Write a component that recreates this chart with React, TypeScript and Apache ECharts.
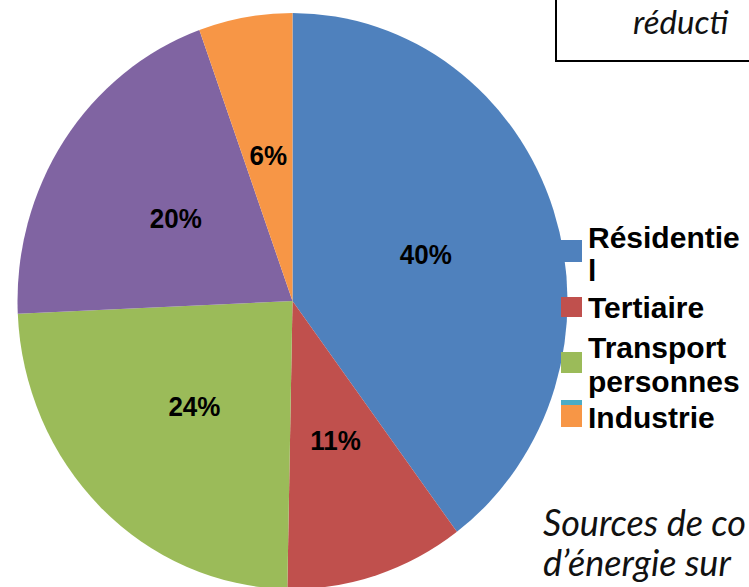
import { useEffect, useRef } from "react";
import * as echarts from "echarts";

// ---- data ----
const sliceNames = ["Résidentiel", "Tertiaire", "Transport personnes", "Autre", "Industrie"];
const sliceValues = [39.8, 10.5, 24.0, 20.2, 5.5];
const sliceColors = ["#4F81BD", "#C0504D", "#9BBB59", "#8064A2", "#F79646"];

const legendLines = [["Résidentie", "l"], ["Tertiaire"], ["Transport", "personnes"], [], ["Industrie"]];
const legendColors = ["#4F81BD", "#C0504D", "#9BBB59", "#4BACC6", "#F79646"];

const boxText = "réducti";
const noteLines = ["Sources de co", "d’énergie sur"];

// the reference pie is slightly taller than wide
const STRETCH = 288 / 275;

export default function App() {
  const pieRef = useRef<HTMLDivElement>(null);
  const topRef = useRef<HTMLDivElement>(null);

  useEffect(() => {
    if (!pieRef.current || !topRef.current) return;
    const pie = echarts.init(pieRef.current, undefined, { renderer: "svg" });
    const over = echarts.init(topRef.current, undefined, { renderer: "svg" });

    pie.setOption({
      animation: false,
      series: [
        {
          type: "pie",
          center: [292.5, 301 / STRETCH],
          radius: [0, 275],
          startAngle: 90,
          clockwise: true,
          avoidLabelOverlap: false,
          emphasis: { disabled: true },
          itemStyle: { borderWidth: 0 },
          label: {
            show: true,
            position: "inside",
            formatter: (p: any) => `${Math.round(p.value)}%`,
            fontSize: 26,
            fontWeight: "bold",
            fontFamily: "'Liberation Sans', Arial, sans-serif",
            color: "#000",
          },
          labelLine: { show: false },
          data: sliceNames.map((n, i) => ({
            name: n,
            value: sliceValues[i],
            itemStyle: { color: sliceColors[i] },
          })),
        },
      ],
    });

    // legend layout
    const markerTop = [240, 297, 352, 400, 405];
    const markerH = [22, 20, 21, 20, 22];
    const lineMid = [[237, 270], [307], [347, 381], [], [417]];

    const graphics: any[] = [];
    legendColors.forEach((c, i) => {
      graphics.push({
        type: "rect",
        z: 100,
        shape: { x: 561, y: markerTop[i], width: 21, height: markerH[i] },
        style: { fill: c },
      });
      legendLines[i].forEach((t, j) => {
        graphics.push({
          type: "text",
          z: 100,
          x: 588,
          y: lineMid[i][j],
          style: {
            text: t,
            font: "bold 30px 'Liberation Sans', Arial, sans-serif",
            fill: "#000",
            verticalAlign: "middle",
            align: "left",
          },
        });
      });
    });

    // top-right box
    graphics.push({
      type: "rect",
      z: 100,
      shape: { x: 556, y: -10, width: 220, height: 71 },
      style: { fill: "#fff", stroke: "#000", lineWidth: 2 },
    });
    graphics.push({
      type: "text",
      z: 101,
      x: 633,
      y: 4,
      style: {
        text: boxText,
        font: "italic 33px Lato, sans-serif",
        fill: "#111",
        verticalAlign: "top",
        align: "left",
      },
    });
    noteLines.forEach((t, i) => {
      graphics.push({
        type: "text",
        z: 100,
        x: 543,
        y: 522 + i * 40,
        style: {
          text: t,
          font: "italic 36px Lato, sans-serif",
          fill: "#111",
          verticalAlign: "middle",
          align: "left",
        },
      });
    });

    over.setOption({ animation: false, graphic: graphics });

    return () => {
      pie.dispose();
      over.dispose();
    };
  }, []);

  return (
    <div style={{ position: "fixed", left: 0, top: 0, width: 749, height: 587, background: "#fff", overflow: "hidden" }}>
      <div
        ref={pieRef}
        style={{
          position: "absolute",
          left: 0,
          top: 0,
          width: 749,
          height: Math.ceil(587 / STRETCH) + 2,
          transform: `scaleY(${STRETCH})`,
          transformOrigin: "0 0",
        }}
      />
      <div
        ref={topRef}
        style={{ position: "absolute", left: 0, top: 0, width: 749, height: 587 }}
      />
    </div>
  );
}
